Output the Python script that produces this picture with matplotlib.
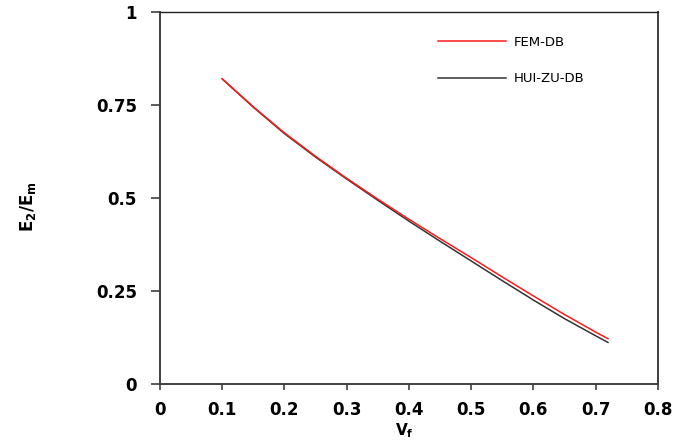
import matplotlib
matplotlib.use("Agg")
import matplotlib.pyplot as plt

vf = [0.1, 0.15, 0.2, 0.25, 0.3, 0.35, 0.4, 0.45, 0.5, 0.55, 0.6, 0.65, 0.7, 0.72]
fem_db = [0.82, 0.745, 0.675, 0.612, 0.553, 0.497, 0.443, 0.391, 0.34, 0.288, 0.237, 0.187, 0.14, 0.122]
hui_zu_db = [0.82, 0.744, 0.673, 0.61, 0.551, 0.494, 0.438, 0.384, 0.331, 0.278, 0.226, 0.176, 0.13, 0.112]

x_ticks = [0, 0.1, 0.2, 0.3, 0.4, 0.5, 0.6, 0.7, 0.8]
x_labels = ["0", "0.1", "0.2", "0.3", "0.4", "0.5", "0.6", "0.7", "0.8"]
y_ticks = [0, 0.25, 0.5, 0.75, 1]
y_labels = ["0", "0.25", "0.5", "0.75", "1"]

fig = plt.figure(figsize=(6.88, 4.42), dpi=100)
ax = fig.add_axes([0.2326, 0.131, 0.956 - 0.2326, 0.973 - 0.131])

ax.plot(vf, fem_db, color="#ff1a1a", lw=1.1, label="FEM-DB", zorder=3)
ax.plot(vf, hui_zu_db, color="#333333", lw=1.1, label="HUI-ZU-DB", zorder=2)

ax.set_xlim(0, 0.8)
ax.set_ylim(0, 1)
ax.set_xticks(x_ticks)
ax.set_xticklabels(x_labels)
ax.set_yticks(y_ticks)
ax.set_yticklabels(y_labels)
for lbl in ax.get_xticklabels() + ax.get_yticklabels():
    lbl.set_fontweight("bold")
    lbl.set_fontsize(12)
ax.tick_params(axis="x", direction="out", length=4.5, width=1.2, color="#404040", pad=8)
ax.tick_params(axis="y", direction="out", length=6.5, width=1.2, color="#404040", pad=10)

for s in ["left", "bottom", "right"]:
    ax.spines[s].set_linewidth(1.4)
    ax.spines[s].set_color("#404040")
ax.spines["top"].set_linewidth(1.0)
ax.spines["top"].set_color("#222222")

ax.set_xlabel(r"V$_\mathbf{f}$", fontsize=11, fontweight="bold")
ax.xaxis.set_label_coords(0.49, -0.1)
ax.set_ylabel(r"E$_\mathbf{2}$/E$_\mathbf{m}$", fontsize=12, fontweight="bold")
ax.yaxis.label.set_rotation_mode("default")
ax.yaxis.label.set_va("center")
ax.yaxis.label.set_ha("center")
ax.yaxis.set_label_coords(-0.265, 0.476)

leg = ax.legend(loc="upper left", bbox_to_anchor=(0.534, 0.968), frameon=False,
                fontsize=9.5, handlelength=5.15, labelspacing=1.78, handletextpad=0.6)

fig.savefig("out.png", dpi=100)
